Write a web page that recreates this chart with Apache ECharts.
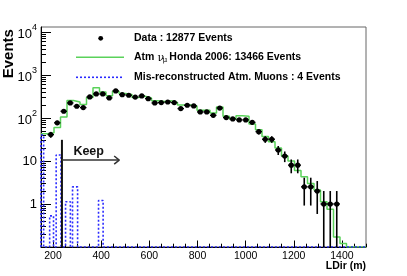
<!DOCTYPE html>
<html><head><meta charset="utf-8">
<script src="https://cdn.jsdelivr.net/npm/echarts@6/dist/echarts.min.js"></script>
<style>html,body{margin:0;padding:0;background:#fff}#c{width:407px;height:276px}</style>
</head><body><div id="c"></div>
<script>
// ---- data ----
const xMin = 150, xMax = 1500, binWidth = 27;
const yMin = 0.1, yMax = 13000;
const dataCounts = [0,41,77,143,223,187,174,308,361,361,292,424,348,337,305,325,281,223,227,235,227,165,197,190,138,138,115,170,102,95,90,90,79,48,32,32,18,13,8,8,2.5,2.5,2,1,1,1,0,0,0,0];
const mcCounts = [43,45,60,105,255,235,205,300,500,400,330,420,370,350,300,320,290,250,240,250,230,200,200,190,150,150,130,180,110,95,113,110,72,53,37,28,20,13,10,6,4.3,3.0,2.1,1.13,0.75,0.17,0.12,0,0,0];
const muonBins = [[150,161,40],[186,202,0.53],[213,233,13.8],[252,272,1.13],[281,302,2.5],[389,408,1.2]];
const xMajorTicks = [200,400,600,800,1000,1200,1400];
const yLabelValues = [1,10,100,1000,10000];
const yMajorTicks = [0.1,1,10,100,1000,10000];
const keepCutX = 237, keepLineTop = 31, keepArrowY = 10.5, keepArrowEnd = 475;
const keepLabelPos = [348, 17];
const legendTexts = ['Data : 12877 Events', 'Atm', '\u03bd', '\u03bc', 'Honda 2006: 13466 Events', 'Mis-reconstructed Atm. Muons : 4 Events'];

// ---- derived ----
const xMinorTicks = [];
for (let v = xMin; v <= xMax; v += 50) if (v % 200 !== 0) xMinorTicks.push(v);
const yMinorTicks = [];
[0.1,1,10,100,1000].forEach(d => { for (let k = 2; k <= 9; k++) if (d*k <= yMax) yMinorTicks.push(+(d*k).toPrecision(3)); });

const mcSteps = [];
mcCounts.forEach((v, i) => {
  const lo = xMin + i*binWidth, hi = lo + binWidth, val = v > 0 ? v : yMin;
  mcSteps.push([lo, val], [hi, val]);
});
const muonSteps = [[xMin, yMin]];
muonBins.forEach(([a, b, v]) => { muonSteps.push([a, yMin], [a, v], [b, v], [b, yMin]); });
muonSteps.push([xMax, yMin]);

const dataPts = [];
dataCounts.forEach((v, i) => { if (v > 0) dataPts.push([xMin + (i+0.5)*binWidth, v, Math.sqrt(v)]); });

const FONT = '"Liberation Sans", Arial, Helvetica, sans-serif';
function yFmt(v) {
  if (v === 1) return '{b|1}';
  if (v === 10) return '{b|10}';
  const e = Math.round(Math.log10(v));
  return '{b|10}{s|' + e + '}';
}

const chart = echarts.init(document.getElementById('c'), null, {renderer: 'canvas'});
chart.setOption({
  animation: false,
  backgroundColor: '#fff',
  grid: {left: 41, right: 41, top: 27, bottom: 29, show: true, borderColor: '#666', borderWidth: 1, backgroundColor: 'transparent'},
  xAxis: [{
    type: 'value', min: xMin, max: xMax,
    axisLine: {show: true, onZero: false, lineStyle: {color: '#000', width: 1}},
    axisTick: {show: true, inside: true, length: 6.5, customValues: xMajorTicks, lineStyle: {color: '#000', width: 1}},
    axisLabel: {show: true, customValues: xMajorTicks, formatter: v => String(v), fontSize: 10.5, color: '#000', fontFamily: FONT, margin: 3.5},
    splitLine: {show: false}
  }, {
    type: 'value', min: xMin, max: xMax, position: 'bottom',
    axisLine: {show: false},
    axisTick: {show: true, inside: true, length: 3.3, customValues: xMinorTicks, lineStyle: {color: '#000', width: 1}},
    axisLabel: {show: false},
    splitLine: {show: false}
  }],
  yAxis: [{
    type: 'log', logBase: 10, min: yMin, max: yMax,
    axisLine: {show: true, onZero: false, lineStyle: {color: '#000', width: 1}},
    axisTick: {show: true, inside: true, length: 10, customValues: yMajorTicks, lineStyle: {color: '#000', width: 1}},
    axisLabel: {show: true, customValues: yLabelValues, formatter: yFmt, margin: 4, color: '#000',
      rich: {
        b: {fontSize: 13, fontFamily: FONT, color: '#000', verticalAlign: 'bottom'},
        s: {fontSize: 9, fontFamily: FONT, color: '#000', verticalAlign: 'top', padding: [0, 0, 9, 0]}
      }},
    splitLine: {show: false}
  }, {
    type: 'log', logBase: 10, min: yMin, max: yMax, position: 'left',
    axisLine: {show: false},
    axisTick: {show: true, inside: true, length: 5, customValues: yMinorTicks, lineStyle: {color: '#000', width: 1}},
    axisLabel: {show: false},
    splitLine: {show: false}
  }],
  series: [
    {type: 'line', name: 'mc', data: mcSteps, showSymbol: false, symbol: 'none', xAxisIndex: 0, yAxisIndex: 0,
     lineStyle: {color: '#5ad25a', width: 1.5}, z: 3},
    {type: 'line', name: 'muons', data: muonSteps, showSymbol: false, symbol: 'none', xAxisIndex: 0, yAxisIndex: 0,
     lineStyle: {color: '#2a2aff', width: 1.6, type: [2, 2]}, z: 4},
    {type: 'line', name: 'cut', data: [[keepCutX, yMin], [keepCutX, keepLineTop]], showSymbol: false, symbol: 'none',
     lineStyle: {color: '#111', width: 2}, z: 5},
    {type: 'line', name: 'arrow', data: [[keepCutX, keepArrowY], [keepArrowEnd, keepArrowY]], showSymbol: false, symbol: 'none',
     lineStyle: {color: '#333', width: 1.5}, z: 5},
    {type: 'line', name: 'arrowhead', data: [[keepArrowEnd - 21, keepArrowY*1.24], [keepArrowEnd, keepArrowY], [keepArrowEnd - 21, keepArrowY/1.24]],
     showSymbol: false, symbol: 'none', lineStyle: {color: '#333', width: 1.5}, z: 5},
    {type: 'custom', name: 'keep', data: [keepLabelPos], encode: {x: 0, y: 1}, z: 6, silent: true,
     renderItem: function (params, api) {
       const p = api.coord([api.value(0), api.value(1)]);
       return {type: 'text', x: p[0], y: p[1], style: {text: 'Keep', font: 'bold 12.5px ' + FONT, fill: '#111', align: 'center', verticalAlign: 'middle'}};
     }},
    {type: 'custom', name: 'data', data: dataPts, xAxisIndex: 0, yAxisIndex: 0, encode: {x: 0, y: 1}, z: 7, clip: true,
     renderItem: function (params, api) {
       const x = api.value(0), v = api.value(1), e = api.value(2);
       const p = api.coord([x, v]);
       const cs = params.coordSys;
       const bottom = cs.y + cs.height;
       const lo = (v - e) > yMin ? api.coord([x, v - e])[1] : bottom;
       const hi = api.coord([x, v + e])[1];
       const l = api.coord([x - binWidth/2, v])[0], r = api.coord([x + binWidth/2, v])[0];
       return {type: 'group', children: [
         {type: 'line', shape: {x1: p[0], y1: lo, x2: p[0], y2: hi}, style: {stroke: '#000', lineWidth: 1.6}},
         {type: 'line', shape: {x1: l, y1: p[1], x2: r, y2: p[1]}, style: {stroke: '#000', lineWidth: 1.3}},
         {type: 'circle', shape: {cx: p[0], cy: p[1], r: 2.6}, style: {fill: '#000'}}
       ]};
     }}
  ],
  graphic: [
    {type: 'circle', shape: {cx: 100.7, cy: 38.3, r: 2.4}, style: {fill: '#000'}},
    {type: 'text', x: 134, y: 38.3, style: {text: legendTexts[0], font: 'bold 10.5px ' + FONT, fill: '#000', textVerticalAlign: 'middle', verticalAlign: 'middle'}},
    {type: 'line', shape: {x1: 76, y1: 57.3, x2: 124, y2: 57.3}, style: {stroke: '#5ad25a', lineWidth: 1.5}},
    {type: 'text', x: 134, y: 57.3, style: {text: legendTexts[1], font: 'bold 10.5px ' + FONT, fill: '#000', textVerticalAlign: 'middle', verticalAlign: 'middle'}},
    {type: 'text', x: 157.4, y: 57.8, style: {text: legendTexts[2], font: '11px "DejaVu Serif", serif', fill: '#000', textVerticalAlign: 'middle', verticalAlign: 'middle'}},
    {type: 'text', x: 162.4, y: 60.5, style: {text: legendTexts[3], font: '7.5px "DejaVu Serif", serif', fill: '#000', textVerticalAlign: 'middle', verticalAlign: 'middle'}},
    {type: 'text', x: 169.3, y: 57.3, style: {text: legendTexts[4], font: 'bold 10.5px ' + FONT, fill: '#000', textVerticalAlign: 'middle', verticalAlign: 'middle'}},
    {type: 'line', shape: {x1: 76, y1: 77.3, x2: 124, y2: 77.3}, style: {stroke: '#2a2aff', lineWidth: 1.6, lineDash: [2, 2]}},
    {type: 'text', x: 134, y: 77.3, style: {text: legendTexts[5], font: 'bold 10.5px ' + FONT, fill: '#000', textVerticalAlign: 'middle', verticalAlign: 'middle'}},
    {type: 'text', x: 8.5, y: 78.3, rotation: Math.PI/2, style: {text: 'Events', font: 'bold 15px ' + FONT, fill: '#000', textAlign: 'left', align: 'left', textVerticalAlign: 'middle', verticalAlign: 'middle'}},
    {type: 'text', x: 366, y: 266, style: {text: 'LDir (m)', font: 'bold 10.5px ' + FONT, fill: '#000', textAlign: 'right', align: 'right', textVerticalAlign: 'middle', verticalAlign: 'middle'}}
  ]
});
</script></body></html>
